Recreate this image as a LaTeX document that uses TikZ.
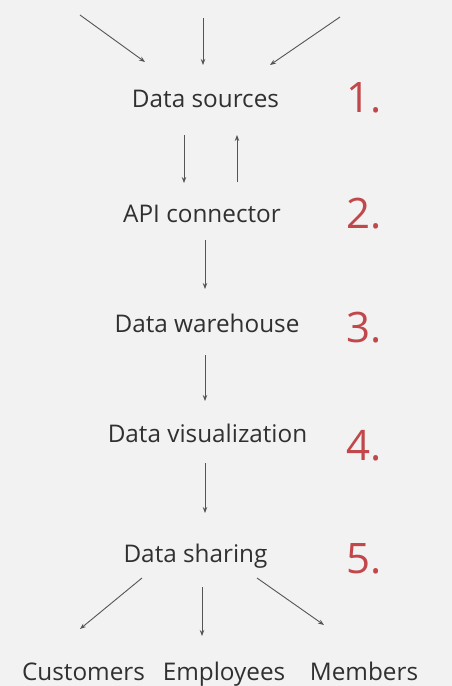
\documentclass[tikz,border=0pt]{standalone}
\usepackage{fontspec}
\setmainfont{Open Sans}
\usetikzlibrary{arrows.meta}
\definecolor{bg}{HTML}{F2F2F2}
\definecolor{txt}{HTML}{303030}
\definecolor{num}{HTML}{C2474B}
\definecolor{ln}{HTML}{555555}
\tikzset{
  lbl/.style={text=txt, font=\fontsize{24.3}{28}\selectfont, inner sep=0pt, anchor=base},
  numlbl/.style={text=num, font=\fontsize{42}{48}\selectfont, inner sep=0pt, anchor=base},
  arr/.style={draw=ln, line width=0.9pt, -{Stealth[length=6pt,width=4.5pt]}}
}
\begin{document}
\begin{tikzpicture}[x=1pt,y=-1pt]
\fill[bg] (0,0) rectangle (452,686);
\useasboundingbox (0,0) rectangle (452,686);
% labels
\node[lbl] (src) at (205.5,107.3) {Data sources};
\node[lbl] (api) at (202,222) {API connector};
\node[lbl] (wh) at (207,332.3) {Data warehouse};
\node[lbl] (vis) at (207.5,442.3) {Data visualization};
\node[lbl] (shr) at (195.5,562) {Data sharing};
\node[lbl] (cus) at (83.5,680) {Customers};
\node[lbl] (emp) at (224,680) {Employees};
\node[lbl] (mem) at (364,680) {Members};
% numbers
\node[numlbl] (n1) at (364.5,112.7) {1.};
\node[numlbl] (n2) at (364.5,228) {2.};
\node[numlbl] (n3) at (364.5,342.7) {3.};
\node[numlbl] (n4) at (364.5,460) {4.};
\node[numlbl] (n5) at (364.5,573) {5.};
% free ends
\coordinate (t1) at (80,15);
\coordinate (t1e) at (145,62);
\coordinate (t2) at (203,18);
\coordinate (t2e) at (203,65);
\coordinate (t3) at (340,17);
\coordinate (t3e) at (270,65);
\coordinate (a1) at (184,135);
\coordinate (a1e) at (184,183);
\coordinate (a2) at (237,182);
\coordinate (a2e) at (237,135);
\coordinate (b1) at (205,240);
\coordinate (b1e) at (205,289);
\coordinate (c1) at (205,355);
\coordinate (c1e) at (205,401);
\coordinate (d1) at (205,463);
\coordinate (d1e) at (205,513);
\coordinate (e1) at (142,578);
\coordinate (e1e) at (80,629);
\coordinate (e2) at (202,587);
\coordinate (e2e) at (202,636);
\coordinate (e3) at (257,578);
\coordinate (e3e) at (324,625);
% arrows
\draw[arr] (t1) -- (t1e);
\draw[arr] (t2) -- (t2e);
\draw[arr] (t3) -- (t3e);
\draw[arr] (a1) -- (a1e);
\draw[arr] (a2) -- (a2e);
\draw[arr] (b1) -- (b1e);
\draw[arr] (c1) -- (c1e);
\draw[arr] (d1) -- (d1e);
\draw[arr] (e1) -- (e1e);
\draw[arr] (e2) -- (e2e);
\draw[arr] (e3) -- (e3e);
\end{tikzpicture}
\end{document}
